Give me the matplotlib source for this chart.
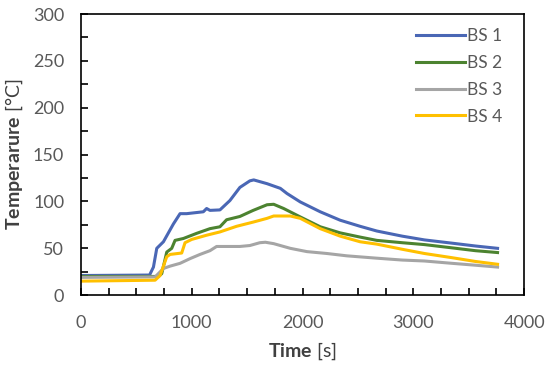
import matplotlib
matplotlib.use("Agg")
import matplotlib.pyplot as plt
from matplotlib.ticker import MultipleLocator

plt.rcParams['font.family'] = ['Lato', 'DejaVu Sans']
plt.rcParams['mathtext.fontset'] = 'custom'
plt.rcParams['mathtext.rm'] = 'Lato'
plt.rcParams['mathtext.bf'] = 'Lato:bold'

# BS 1
t1 = [0, 620, 655, 685, 745, 835, 895, 955, 1105, 1135, 1165, 1255, 1345, 1435, 1525,
      1560, 1590, 1680, 1800, 1860, 1980, 2160, 2340, 2520, 2670, 2900, 3100, 3350, 3560, 3760]
T1 = [21, 21.5, 30, 50, 57, 76, 87, 87, 89, 92.5, 90.5, 91, 101, 115, 122,
      123, 122, 119, 114, 108.5, 99.5, 89, 80, 73.5, 68.5, 63, 59, 55.5, 52.5, 50]
# BS 2
t2 = [0, 700, 730, 775, 820, 850, 925, 1045, 1165, 1255, 1315, 1435, 1555, 1680, 1740,
      1830, 1980, 2160, 2340, 2520, 2670, 2900, 3100, 3350, 3560, 3760]
T2 = [20, 20, 23, 46, 50, 58.5, 60.5, 66, 71, 73, 80.5, 84, 90.5, 96.5, 97,
      92.5, 83.5, 73, 66.5, 62, 58.5, 56, 54, 50.5, 47.5, 45.5]
# BS 3
t3 = [0, 670, 745, 805, 895, 985, 1075, 1165, 1225, 1435, 1525, 1615, 1665, 1740,
      1890, 2040, 2220, 2400, 2670, 2900, 3100, 3350, 3560, 3760]
T3 = [19, 19.5, 28.5, 31, 34, 39, 43.5, 47.5, 52, 52, 53, 56, 56.5, 55,
      50, 46.5, 44.5, 42, 39.5, 37.5, 36.5, 34, 32, 30]
# BS 4
t4 = [0, 670, 715, 775, 805, 910, 940, 1000, 1135, 1255, 1405, 1555, 1680, 1740, 1890,
      1980, 2160, 2340, 2520, 2670, 2900, 3100, 3350, 3560, 3760]
T4 = [15, 16, 21, 41, 43.5, 45, 56, 59.5, 64, 67.5, 73.5, 78, 82, 84.5, 84.5,
      82, 71, 63, 57, 54.5, 49, 44.5, 40, 36, 33]

labels = ["BS 1", "BS 2", "BS 3", "BS 4"]
colors = ["#4A67B5", "#4C8330", "#A5A5A5", "#FFC000"]

fig = plt.figure(figsize=(5.5, 3.69), dpi=100)
ax = fig.add_axes([0.147, 0.2, 0.806, 0.762])

for t, T, lab, c in zip([t1, t2, t3, t4], [T1, T2, T3, T4], labels, colors):
    ax.plot(t, T, color=c, lw=2.2, label=lab)

ax.set_xlim(0, 4000)
ax.set_ylim(0, 300)
ax.xaxis.set_major_locator(MultipleLocator(1000))
ax.xaxis.set_minor_locator(MultipleLocator(250))
ax.yaxis.set_major_locator(MultipleLocator(50))
ax.yaxis.set_minor_locator(MultipleLocator(25))
ax.tick_params(which='both', direction='in', length=5, width=1.2, color='black')
ax.tick_params(which='major', labelsize=13, labelcolor='#595959', pad=12)
ax.tick_params(axis='x', which='major', pad=14)
for s in ax.spines.values():
    s.set_linewidth(1.2)
    s.set_color('black')

ax.set_xlabel(r"$\mathbf{Time}$ [s]", fontsize=14, color='#404040', labelpad=7)
ax.set_ylabel(r"$\mathbf{Temperarure}$ [°C]", fontsize=14, color='#404040', labelpad=6)

leg = ax.legend(loc='upper right', bbox_to_anchor=(0.985, 1.005), frameon=False,
                fontsize=12.5, handlelength=2.8, handletextpad=0.1,
                labelspacing=0.62, borderaxespad=0.5)
for txt in leg.get_texts():
    txt.set_color('#595959')

fig.savefig("out.png", dpi=100)
